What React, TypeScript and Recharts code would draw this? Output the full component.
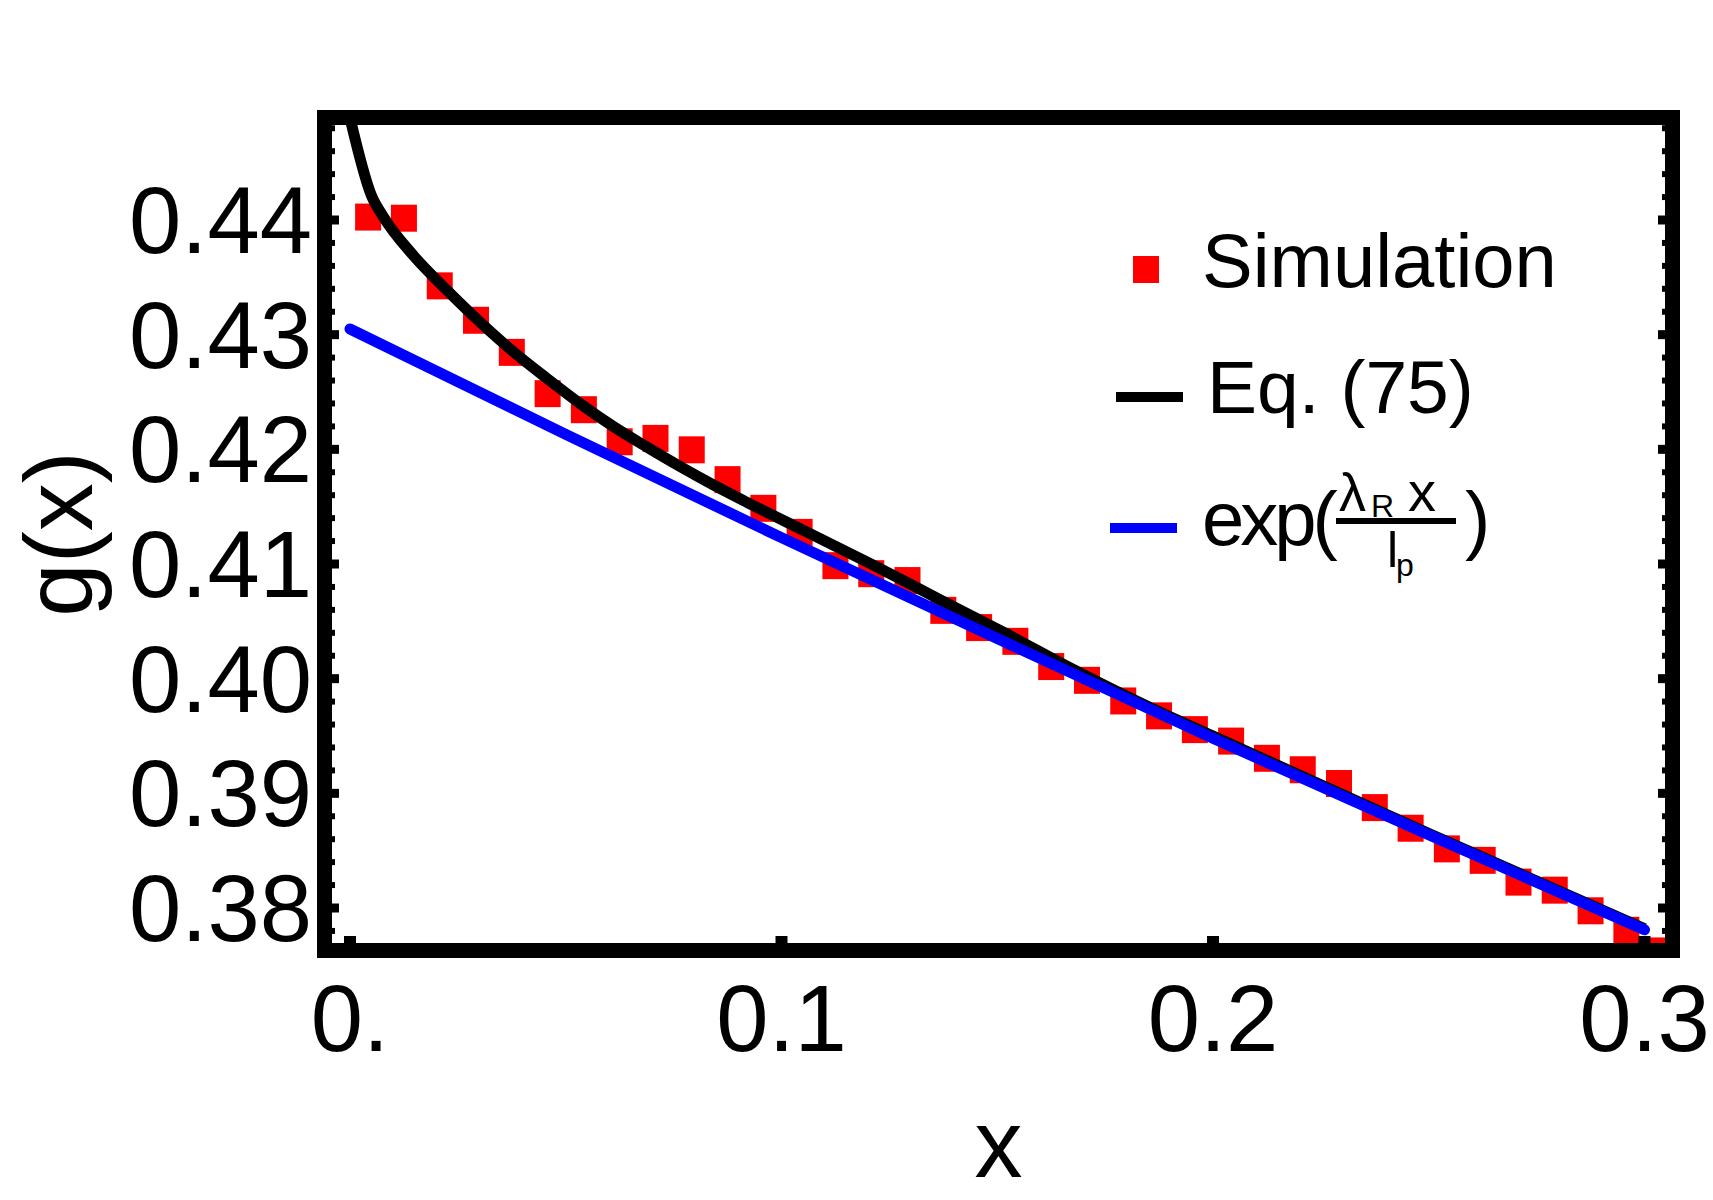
import React from 'react'
import { ComposedChart, Legend, Line, ReferenceArea, Scatter, XAxis, YAxis } from 'recharts'

const FONT = '"Liberation Sans", Arial, sans-serif'
const RED = '#ff0000'
const BLUE = '#0000ff'

// simulation points
const simX = [
  0.0042, 0.0125, 0.0208, 0.0292, 0.0375, 0.0458, 0.0542, 0.0625, 0.0708, 0.0792,
  0.0875, 0.0958, 0.1042, 0.1125, 0.1208, 0.1292, 0.1375, 0.1458, 0.1542, 0.1625,
  0.1708, 0.1792, 0.1875, 0.1958, 0.2042, 0.2125, 0.2208, 0.2292, 0.2375, 0.2458,
  0.2542, 0.2625, 0.2708, 0.2792, 0.2875, 0.2958, 0.3042,
]
const simY = [
  0.4403, 0.4402, 0.4343, 0.4313, 0.4285, 0.4249, 0.4235, 0.4207, 0.421, 0.42,
  0.4174, 0.4149, 0.4128, 0.4099, 0.4092, 0.4086, 0.406, 0.4045, 0.4033, 0.4011,
  0.3999, 0.3981, 0.3968, 0.3956, 0.3946, 0.3931, 0.3921, 0.3909, 0.3888, 0.387,
  0.3852, 0.3842, 0.3823, 0.3816, 0.3798, 0.3781, 0.3763,
]

// Eq. (75)
const eqX = [
  0, 0.005, 0.0077, 0.0147, 0.0224, 0.0301, 0.0379, 0.0456, 0.0533, 0.061, 0.0688,
  0.0765, 0.0842, 0.0919, 0.1058, 0.1213, 0.1367, 0.1522, 0.1676, 0.187, 0.2, 0.25, 0.3,
]
const eqY = [
  0.4489, 0.4421, 0.4403, 0.4369, 0.4339, 0.4311, 0.4285, 0.4262, 0.424, 0.422, 0.4202,
  0.4185, 0.4169, 0.4154, 0.4128, 0.4099, 0.4069, 0.4039, 0.4008, 0.3972, 0.395, 0.3865, 0.3782,
]

// exp(lambda_R x / l_p)
const expX = [0, 0.05, 0.1, 0.15, 0.2, 0.25, 0.3]
const expY = [0.4305, 0.4213, 0.4123, 0.4035, 0.3948, 0.3864, 0.3781]

const xTicks = [0, 0.1, 0.2, 0.3]
const xTickLabels = ['0.', '0.1', '0.2', '0.3']
const yMajorTicks = [0.38, 0.39, 0.4, 0.41, 0.42, 0.43, 0.44]

const X_DOMAIN = [-0.00591, 0.30649]
const Y_DOMAIN = [0.376294, 0.448939]

const yTicks: number[] = []
for (let k = 378; k <= 448; k += 2) yTicks.push(k / 1000)

const simulation = simX.map((x, i) => ({ x, y: simY[i] }))
const eqCurve = eqX.map((x, i) => ({ x, y: eqY[i] }))
const expCurve = expX.map((x, i) => ({ x, y: expY[i] }))

const isMajor = (v: number) => yMajorTicks.some((m) => Math.abs(m - v) < 1e-6)

function LeftTick({ x, y, payload }: any) {
  const major = isMajor(payload.value)
  return (
    <g>
      <line x1={x} x2={x + (major ? 14.5 : 10.5)} y1={y} y2={y} stroke="#000" strokeWidth={major ? 9 : 6} />
      {major && (
        <text x={x - 12.5} y={y} dy={33} textAnchor="end" fontFamily={FONT} fontSize={94} fill="#000">
          {payload.value.toFixed(2)}
        </text>
      )}
    </g>
  )
}

function RightTick({ x, y, payload }: any) {
  const major = isMajor(payload.value)
  return <line x1={x} x2={x - (major ? 14.5 : 10.5)} y1={y} y2={y} stroke="#000" strokeWidth={major ? 9 : 6} />
}

function BottomTick({ x, y, payload, index }: any) {
  return (
    <g>
      <line x1={x} x2={x} y1={y} y2={y - 14.5} stroke="#000" strokeWidth={12} />
      <text x={x} y={y + 100.5} textAnchor="middle" fontFamily={FONT} fontSize={94} fill="#000">
        {xTickLabels[index] ?? payload.value}
      </text>
    </g>
  )
}

function TopTick({ x, y }: any) {
  return <line x1={x} x2={x} y1={y} y2={y + 14.5} stroke="#000" strokeWidth={12} />
}

function Square({ cx, cy }: any) {
  if (cx == null || cy == null) return null
  return <rect x={cx - 13} y={cy - 13} width={26} height={27} fill={RED} />
}

function LegendBox() {
  const t = { fontFamily: FONT, fill: '#000' }
  return (
    <svg width={420} height={380} style={{ overflow: 'visible' }}>
      <rect x={43} y={36} width={26} height={27} fill={RED} />
      <text x={112} y={67} fontSize={76} {...t}>Simulation</text>

      <line x1={26} x2={93} y1={177} y2={177} stroke="#000" strokeWidth={10} />
      <text x={117} y={193} fontSize={75} {...t}>Eq. (75)</text>

      <line x1={20} x2={87} y1={308} y2={308} stroke={BLUE} strokeWidth={10} />
      <text x={112} y={325} fontSize={76} letterSpacing={-4} {...t}>exp(</text>
      <text x={249} y={291} fontSize={54} {...t}>λ</text>
      <text x={281} y={297} fontSize={32} {...t}>R</text>
      <text x={318} y={291} fontSize={56} {...t}>x</text>
      <line x1={246} x2={366} y1={301} y2={301} stroke="#000" strokeWidth={6} />
      <text x={297} y={347} fontSize={50} {...t}>l</text>
      <text x={306} y={356} fontSize={32} {...t}>p</text>
      <text x={375} y={325} fontSize={76} {...t}>)</text>
    </svg>
  )
}

export default function App() {
  return (
    <div>
      <style>{'body{margin:0;background:#fff}'}</style>
      <ComposedChart
        width={1713}
        height={1200}
        margin={{ top: 116.5, right: 39.5, bottom: 248.5, left: 323.5 }}
      >
        <XAxis
          type="number"
          dataKey="x"
          domain={X_DOMAIN}
          allowDataOverflow
          ticks={xTicks}
          interval={0}
          height={1}
          tickSize={0}
          tickMargin={0}
          axisLine={false}
          tickLine={false}
          tick={<BottomTick />}
          label={{
            value: 'x',
            content: (p: any) => (
              <text x={998.5} y={1177} textAnchor="middle" fontFamily={FONT} fontSize={96} fill="#000">
                {p.value}
              </text>
            ),
          }}
        />
        <XAxis
          xAxisId="top"
          orientation="top"
          type="number"
          domain={X_DOMAIN}
          allowDataOverflow
          ticks={xTicks}
          interval={0}
          height={1}
          tickSize={0}
          tickMargin={0}
          axisLine={false}
          tickLine={false}
          tick={<TopTick />}
        />
        <YAxis
          type="number"
          dataKey="y"
          domain={Y_DOMAIN}
          allowDataOverflow
          ticks={yTicks}
          interval={0}
          width={1}
          tickSize={0}
          tickMargin={0}
          axisLine={false}
          tickLine={false}
          tick={<LeftTick />}
          label={{
            value: 'g(x)',
            content: (p: any) => (
              <text
                x={92}
                y={534}
                transform="rotate(-90 92 534)"
                textAnchor="middle"
                fontFamily={FONT}
                fontSize={96}
                fill="#000"
              >
                {p.value}
              </text>
            ),
          }}
        />
        <YAxis
          yAxisId="right"
          orientation="right"
          type="number"
          domain={Y_DOMAIN}
          allowDataOverflow
          ticks={yTicks}
          interval={0}
          width={1}
          tickSize={0}
          tickMargin={0}
          axisLine={false}
          tickLine={false}
          tick={<RightTick />}
        />
        <Scatter
          name="Simulation"
          data={simulation}
          dataKey="y"
          shape={<Square />}
          isAnimationActive={false}
          zIndex={350}
        />
        <Line
          name="Eq. (75)"
          data={eqCurve}
          dataKey="y"
          type="monotone"
          stroke="#000"
          strokeWidth={11}
          strokeLinejoin="round"
          dot={false}
          activeDot={false}
          isAnimationActive={false}
          zIndex={400}
        />
        <Line
          name="exp"
          data={expCurve}
          dataKey="y"
          type="linear"
          stroke={BLUE}
          strokeWidth={11}
          strokeLinecap="round"
          strokeLinejoin="round"
          dot={false}
          activeDot={false}
          isAnimationActive={false}
          zIndex={410}
        />
        <ReferenceArea
          x1={X_DOMAIN[0]}
          x2={X_DOMAIN[1]}
          y1={Y_DOMAIN[0]}
          y2={Y_DOMAIN[1]}
          fill="none"
          fillOpacity={0}
          stroke="#000"
          strokeWidth={15}
          ifOverflow="visible"
          zIndex={700}
        />
        <Legend
          layout="vertical"
          align="center"
          verticalAlign="middle"
          wrapperStyle={{ left: 1090, top: 220, width: 420, height: 380 }}
          content={<LegendBox />}
        />
      </ComposedChart>
    </div>
  )
}
